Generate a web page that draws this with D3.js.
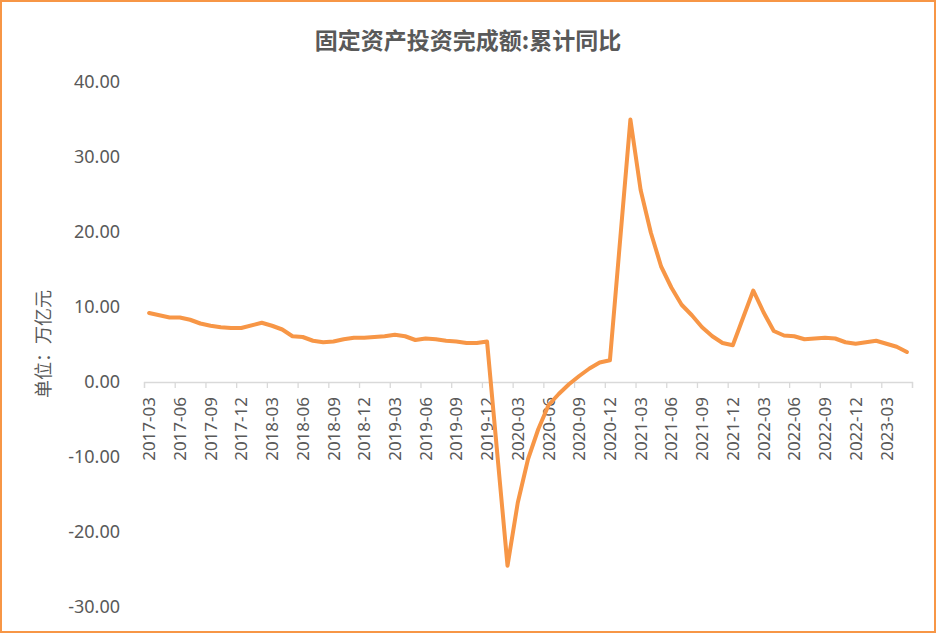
<!DOCTYPE html>
<html>
<head>
<meta charset="utf-8">
<script src="https://cdn.jsdelivr.net/npm/d3@7"></script>
<style>
  html, body { margin: 0; padding: 0; background: #fff; }
  svg { display: block; }
</style>
</head>
<body>
<svg id="chart" width="936" height="633"></svg>
<script>
// ---- Data ----
const title = "固定资产投资完成额:累计同比";
const yAxisTitle = "单位：万亿元";
const startYear = 2017, startMonth = 3, monthCount = 75; // 2017-03 .. 2023-05
const categories = d3.range(monthCount).map(i => {
  const m = startMonth - 1 + i;
  const yr = startYear + Math.floor(m / 12);
  const mm = (m % 12) + 1;
  return yr + "-" + String(mm).padStart(2, "0");
});
// cumulative YoY (%) by month; January not published (null)
const values2017 = [9.2, 8.9, 8.6, 8.6, 8.3, 7.8, 7.5, 7.3, 7.2, 7.2];            // Mar-Dec
const values2018 = [null, 7.9, 7.5, 7.0, 6.1, 6.0, 5.5, 5.3, 5.4, 5.7, 5.9, 5.9];
const values2019 = [null, 6.1, 6.3, 6.1, 5.6, 5.8, 5.7, 5.5, 5.4, 5.2, 5.2, 5.4];
const values2020 = [null, -24.5, -16.1, -10.3, -6.3, -3.1, -1.6, -0.3, 0.8, 1.8, 2.6, 2.9];
const values2021 = [null, 35.0, 25.6, 19.9, 15.4, 12.6, 10.3, 8.9, 7.3, 6.1, 5.2, 4.9];
const values2022 = [null, 12.2, 9.3, 6.8, 6.2, 6.1, 5.7, 5.8, 5.9, 5.8, 5.3, 5.1];
const values2023 = [null, 5.5, 5.1, 4.7, 4.0];                                   // Jan-May
const values = [].concat(values2017, values2018, values2019, values2020, values2021, values2022, values2023);
const yTicks = [-30, -20, -10, 0, 10, 20, 30, 40];

// ---- Layout ----
const svg = d3.select("#chart");
const W = 936, H = 633;
const mLeft = 144, mRight = 912, mTop = 82, mBottom = 607;
const grey = "#595959", orange = "#F79646";
const font = "'Noto Sans', 'Noto Sans CJK SC', 'Liberation Sans', sans-serif";

svg.append("rect").attr("x", 1).attr("y", 1).attr("width", W - 2).attr("height", H - 2)
  .attr("fill", "#fff").attr("stroke", orange).attr("stroke-width", 2);

svg.append("text").attr("x", 468).attr("y", 49).attr("text-anchor", "middle")
  .attr("font-family", "'Noto Sans CJK SC', sans-serif").attr("font-weight", "bold")
  .attr("font-size", 23).attr("fill", grey).text(title);

const x = d3.scaleBand().domain(categories).range([mLeft, mRight]).paddingInner(0).paddingOuter(0);
const xIdx = d3.scaleLinear().domain([0, monthCount]).range([mLeft, mRight]);
const y = d3.scaleLinear().domain([-30, 40]).range([mBottom, mTop]);
const y0 = y(0);
const fmt = d => d.toFixed(2); // plain hyphen-minus like the original

// y axis labels (no line)
const yAxis = svg.append("g").attr("transform", `translate(${mLeft},0)`)
  .call(d3.axisLeft(y).tickValues(yTicks).tickSize(0).tickPadding(24).tickFormat(fmt));
yAxis.select(".domain").remove();
yAxis.selectAll("text").attr("font-family", font).attr("font-size", 18).attr("fill", grey);

// x axis tick marks at category boundaries
const xTicks = svg.append("g").attr("transform", `translate(0,${y0})`)
  .call(d3.axisBottom(xIdx).tickValues(d3.range(0, monthCount + 1, 3)).tickSize(6).tickFormat(""));
xTicks.select(".domain").attr("stroke", "#D9D9D9").attr("stroke-width", 1.3);
xTicks.selectAll(".tick line").attr("stroke", "#D9D9D9").attr("stroke-width", 1.3);

// x axis labels at category centres, rotated
const xLabels = svg.append("g").attr("transform", `translate(0,${y0})`)
  .call(d3.axisBottom(x).tickValues(categories.filter((c, i) => i % 3 === 0)).tickSize(0));
xLabels.select(".domain").remove();
xLabels.selectAll("text")
  .attr("font-family", font).attr("font-size", 17).attr("fill", grey)
  .attr("transform", "rotate(-90)").attr("text-anchor", "end")
  .attr("x", -15).attr("y", 0).attr("dy", "0.36em");

// y axis title
svg.append("text").attr("transform", `translate(50,344) rotate(-90)`)
  .attr("text-anchor", "middle").attr("font-family", "'Noto Sans CJK SC', sans-serif")
  .attr("font-size", 18).attr("fill", grey).text(yAxisTitle);

// line (gaps connected)
const pts = categories.map((c, i) => ({ c, v: values[i] })).filter(d => d.v !== null);
svg.append("path").datum(pts)
  .attr("fill", "none").attr("stroke", orange).attr("stroke-width", 4)
  .attr("stroke-linejoin", "round").attr("stroke-linecap", "round")
  .attr("d", d3.line().x(d => x(d.c) + x.bandwidth() / 2).y(d => y(d.v)));
</script>
</body>
</html>
